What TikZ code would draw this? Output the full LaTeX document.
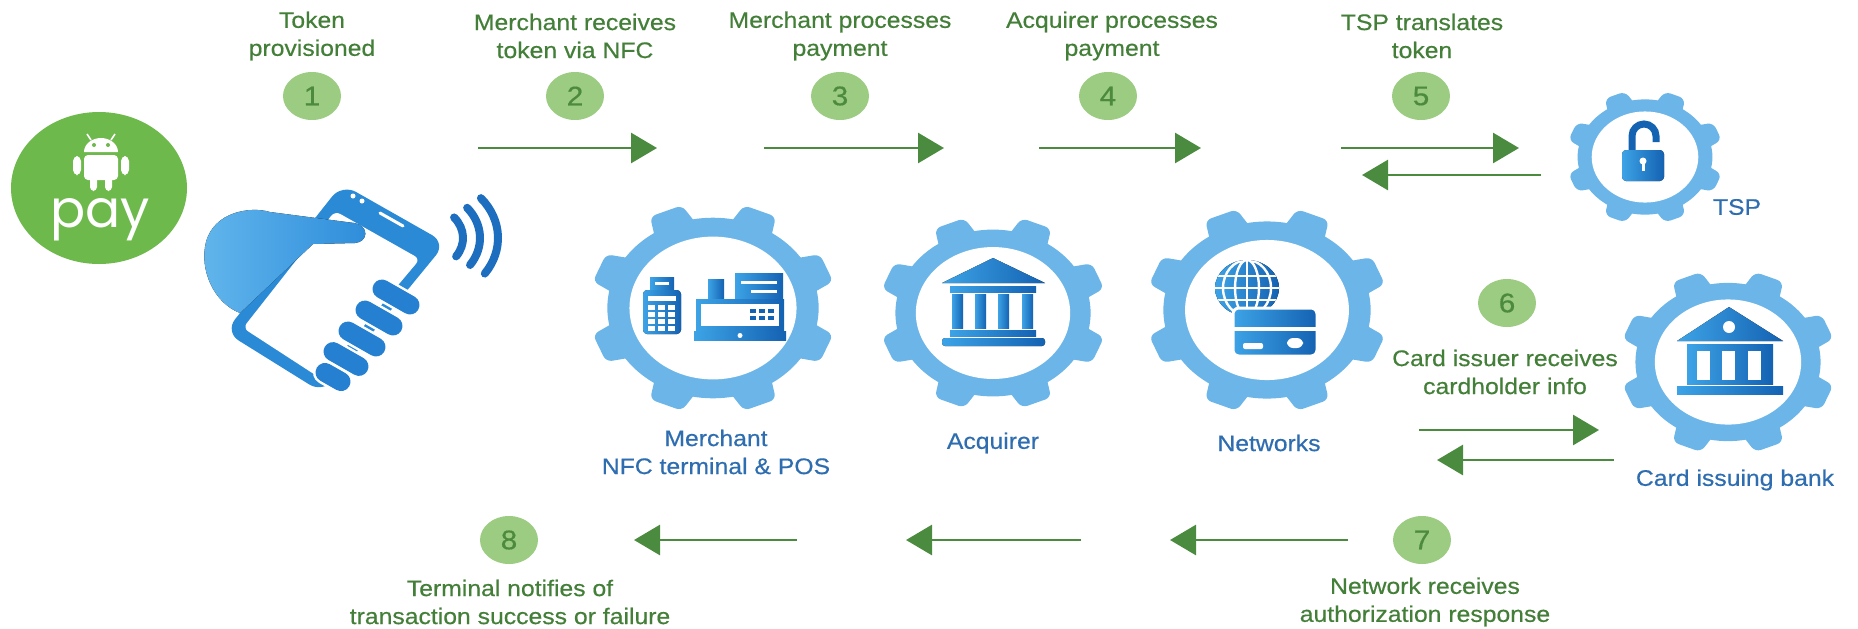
\documentclass[tikz,border=0pt]{standalone}
\usepackage{fontspec}
\setmainfont{Liberation Sans}[FakeStretch=1.1, FakeBold=0.5]
\newfontfamily\payfont{Poppins}
\usetikzlibrary{arrows.meta,shapes.geometric}

\definecolor{gearblue}{HTML}{6CB5E8}
\definecolor{iconlt}{HTML}{3DA3E6}
\definecolor{icondk}{HTML}{1462B2}
\definecolor{phoneblue}{HTML}{2B8AD6}
\definecolor{palmlt}{HTML}{62B6EC}
\definecolor{palmdk}{HTML}{2D8CDA}
\definecolor{fingerblue}{HTML}{2580D2}
\definecolor{nfcblue}{HTML}{1E6EC0}
\definecolor{stepgreen}{HTML}{437F38}
\definecolor{numfill}{HTML}{9CCB82}
\definecolor{numtext}{HTML}{4C8A3E}
\definecolor{arrowgreen}{HTML}{4B8B3F}
\definecolor{labelblue}{HTML}{2E6DB0}
\definecolor{paygreen}{HTML}{6DB94B}

\tikzset{
  steptext/.style={text=stepgreen, align=center, font=\fontsize{11.25}{14}\selectfont},
  partlabel/.style={text=labelblue, align=center, font=\fontsize{11.25}{14}\selectfont},
  stepnum/.style={ellipse, fill=numfill, text=numtext, minimum width=29pt, minimum height=24pt,
    inner sep=0pt, font=\fontsize{13.5}{14}\selectfont},
  flow/.style={draw=arrowgreen, line width=1.4pt, -{Triangle[length=13pt,width=15pt]}},
  icon/.style={left color=iconlt, right color=icondk},
  pics/cog/.style={code={
    \begin{scope}[xscale=sx]
      \fill[gearblue] (0,0) circle[radius=0.86*#1];
      \foreach \a in {22.5,67.5,...,337.5}
        \fill[gearblue, rotate=\a, rounded corners=3pt]
          (0.75*#1,-0.19*#1) -- (#1,-0.14*#1) -- (#1,0.14*#1) -- (0.75*#1,0.19*#1) -- cycle;
      \fill[white] (0,0) circle[radius=0.68*#1];
    \end{scope}
  }},
}

\begin{document}
\begin{tikzpicture}[x=0.5pt, y=-0.5pt, declare function={sx=1.17;}]
\path[use as bounding box] (0,0) rectangle (1858,628);

% android pay badge
\fill[paygreen] (99,188) ellipse[x radius=88, y radius=76];
\fill[white] (84,152) arc[start angle=180, end angle=360, x radius=17, y radius=14] -- cycle;
\fill[paygreen] (94,145) circle[radius=2];
\fill[paygreen] (108,145) circle[radius=2];
\draw[white, line width=0.8pt] (91,140) -- (87,134) (111,140) -- (115,134);
\fill[white, rounded corners=2pt] (84,155) rectangle (118,180);
\fill[white, rounded corners=2.5pt] (73,156) rectangle (81,175);
\fill[white, rounded corners=2.5pt] (121,156) rectangle (129,175);
\fill[white, rounded corners=2pt] (90,176) rectangle (97,191);
\fill[white, rounded corners=2pt] (105,176) rectangle (112,191);
\node[text=white, font=\payfont\fontsize{26}{26}\selectfont, anchor=base] (pay) at (100,227) {pay};

% phone held in hand
\fill[phoneblue, rounded corners=8pt] (342,184) -- (446,243) -- (323,393) -- (225,332) -- cycle;
\fill[white, rounded corners=3pt] (335,211) -- (420,259) -- (320,378) -- (243,328) -- cycle;
\fill[white] (353,196) circle[radius=2.5] (362,201) circle[radius=2.5];
\draw[white, line width=1.5pt, line cap=round] (380,213) -- (403,226);
\fill[left color=palmlt, right color=palmdk] (240,313) -- (313,244) -- (355,243)
  .. controls (368,242) and (370,226) .. (354,223) -- (270,212)
  .. controls (250,206) and (214,212) .. (206,242)
  .. controls (199,270) and (214,303) .. (240,313) -- cycle;
\foreach \cx/\cy/\l in {396/297/14, 379/318/14, 362/339/14, 346/359/13, 333/377/8} {
  \draw[white, line width=12pt, line cap=round] (\cx-\l,\cy-0.57*\l) -- (\cx+\l,\cy+0.57*\l);
  \draw[fingerblue, line width=9.5pt, line cap=round] (\cx-\l,\cy-0.57*\l) -- (\cx+\l,\cy+0.57*\l);
}
\foreach \rx/\ry in {38/32, 55/47, 73/62}
  \draw[nfcblue, line width=4pt, line cap=round]
    (425,238) ++(-40:{\rx} and {\ry}) arc[start angle=-40, end angle=35, x radius=\rx, y radius=\ry];

% gears
\pic (merch) at (713,308) {cog=105};
\pic (acq) at (993,313) {cog=97};
\pic (net) at (1267,310) {cog=103};
\pic (tsp) at (1645,157) {cog=67};
\pic (bank) at (1728,362) {cog=92};

% terminal and register
\fill[icon] (650,277) rectangle (674,292);
\fill[white] (655,282) rectangle (669,285);
\fill[icon, rounded corners=2pt] (643,290) rectangle (681,334);
\fill[white] (648,296) rectangle (676,301);
\foreach \i in {0,1,2}
  \foreach \j in {0,1,2,3}
    \fill[white] (648+\i*10,305+\j*7) rectangle ++(7,5);
\fill[icon] (735,273) rectangle (783,300);
\fill[white] (741,281) rectangle (777,284);
\fill[white] (751,290) rectangle (777,293);
\fill[icon] (708,279) rectangle (724,300);
\fill[icon] (696,299) rectangle (784,330);
\fill[white] (701,304) rectangle (779,326);
\foreach \i in {0,1,2}
  \foreach \j in {0,1}
    \fill[icondk] (750+\i*9,309+\j*7) rectangle ++(6,4);
\fill[icon] (694,331) rectangle (786,340);
\fill[white] (740,335.5) circle[radius=2.5];

% acquirer bank
\fill[icon] (942,283) -- (993,258) -- (1045,283) -- cycle;
\fill[icon] (950,286) rectangle (1036,292);
\foreach \x in {952,975,998,1022}
  \fill[icon] (\x,294) rectangle ++(11,34);
\fill[icon] (950,330) rectangle (1036,336);
\fill[icon, rounded corners=1.5pt] (942,338) rectangle (1045,346);

% globe and card
\fill[icon] (1247,288) ellipse[x radius=32, y radius=28];
\begin{scope}
  \clip (1247,288) ellipse[x radius=32, y radius=28];
  \draw[white, line width=1.2pt] (1210,276) -- (1285,276) (1210,288) -- (1285,288)
    (1210,300) -- (1285,300) (1247,255) -- (1247,320);
  \draw[white, line width=1.2pt] (1247,288) ellipse[x radius=12, y radius=28]
    (1247,288) ellipse[x radius=24, y radius=28];
\end{scope}
\draw[white, line width=1.5pt, icon, rounded corners=3pt] (1233,308) rectangle (1317,356);
\fill[white] (1234,327) rectangle (1316,331);
\fill[white, rounded corners=1pt] (1243,343) rectangle (1263,349);
\fill[white, rounded corners=3pt] (1287,338) rectangle (1303,348);

% open padlock
\draw[icondk, line width=3.5pt] (1632,152) -- (1632,136)
  arc[start angle=180, end angle=360, radius=12] -- (1656,142);
\fill[icon, rounded corners=2pt] (1622,150) rectangle (1664,181);
\fill[white] (1643,161) circle[radius=3.5];
\fill[white] (1641.5,161) rectangle (1644.5,171);

% issuing bank
\fill[icon] (1677,341) -- (1729,307) -- (1783,341) -- cycle;
\fill[white] (1729,327) circle[radius=6];
\fill[icon] (1687,344) rectangle (1773,384);
\foreach \x in {1697,1722,1748}
  \fill[white] (\x,351) rectangle ++(13,29);
\fill[icon] (1677,386) rectangle (1783,394);

% labels of the parties
\node[partlabel] (lmerch) at (716,452) {Merchant\\NFC terminal \& POS};
\node[partlabel] (lacq) at (993,443) {Acquirer};
\node[partlabel] (lnet) at (1269,443) {Networks};
\node[partlabel] (ltsp) at (1737,207) {TSP};
\node[partlabel] (lbank) at (1735,480) {Card issuing bank};

% steps
\node[steptext] (t1) at (312,36) {Token\\provisioned};
\node[steptext] (t2) at (575,36) {Merchant receives\\token via NFC};
\node[steptext] (t3) at (840,36) {Merchant processes\\payment};
\node[steptext] (t4) at (1112,36) {Acquirer processes\\payment};
\node[steptext] (t5) at (1422,36) {TSP translates\\token};
\node[steptext] (t6) at (1505,372) {Card issuer receives\\cardholder info};
\node[steptext] (t7) at (1425,602) {Network receives\\authorization response};
\node[steptext] (t8) at (510,602) {Terminal notifies of\\transaction success or failure};
\foreach \n/\px/\py in {1/312/96, 2/575/96, 3/840/96, 4/1108/96, 5/1421/96, 6/1507/303, 7/1422/540, 8/509/540}
  \node[stepnum] (n\n) at (\px,\py) {\n};

\foreach \xa/\xb/\ya [count=\i] in {478/657/148, 764/944/148, 1039/1201/148, 1341/1519/148,
    1541/1362/175, 1419/1599/430, 1614/1437/460, 1348/1170/540, 1081/906/540, 797/634/540} {
  \coordinate (s\i) at (\xa,\ya);
  \coordinate (e\i) at (\xb,\ya);
  \draw[flow] (s\i) -- (e\i);
}
\end{tikzpicture}
\end{document}
